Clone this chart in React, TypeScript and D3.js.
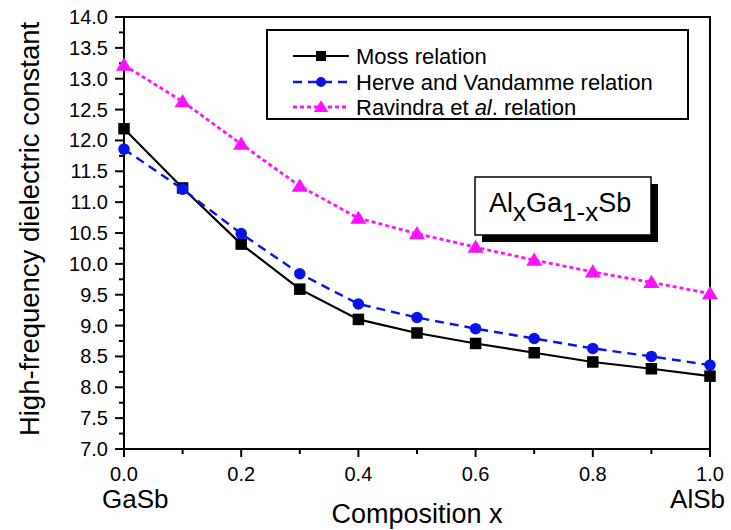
import React from "react";
import * as d3 from "d3";

const composition = [0.0, 0.1, 0.2, 0.3, 0.4, 0.5, 0.6, 0.7, 0.8, 0.9, 1.0];
const mossValues = [12.19, 11.23, 10.32, 9.59, 9.10, 8.88, 8.71, 8.56, 8.41, 8.30, 8.18];
const herveValues = [11.86, 11.21, 10.49, 9.84, 9.35, 9.13, 8.95, 8.79, 8.63, 8.50, 8.36];
const ravindraValues = [13.22, 12.63, 11.94, 11.26, 10.74, 10.49, 10.27, 10.06, 9.87, 9.70, 9.52];
const yTickValues = [7.0, 7.5, 8.0, 8.5, 9.0, 9.5, 10.0, 10.5, 11.0, 11.5, 12.0, 12.5, 13.0, 13.5, 14.0];
const xTickValues = [0.0, 0.2, 0.4, 0.6, 0.8, 1.0];
const seriesNames = ["Moss relation", "Herve and Vandamme relation", "Ravindra et al. relation"];

const W = 731;
const H = 530;
const L = 124, R = 710, T = 17, B = 449;
const FONT = "'Liberation Sans', Arial, sans-serif";

type Series = { name: string; values: number[]; color: string; dash: string; width: number; marker: "square" | "circle" | "triangle" };

const series: Series[] = [
  { name: seriesNames[0], values: mossValues, color: "#000000", dash: "none", width: 2.2, marker: "square" },
  { name: seriesNames[1], values: herveValues, color: "#0a14e6", dash: "9,6", width: 2.4, marker: "circle" },
  { name: seriesNames[2], values: ravindraValues, color: "#ff10ff", dash: "4,3", width: 2.8, marker: "triangle" },
];

function Marker({ kind, x, y, color, s }: { kind: string; x: number; y: number; color: string; s: number }) {
  if (kind === "square") return <rect x={x - s / 2} y={y - s / 2} width={s} height={s} fill={color} />;
  if (kind === "circle") return <circle cx={x} cy={y} r={s / 2} fill={color} />;
  const h = s * 0.9;
  const w = s * 1.15;
  return <path d={`M${x},${y - h * 0.6}L${x + w / 2},${y + h * 0.45}L${x - w / 2},${y + h * 0.45}Z`} fill={color} />;
}

export default function App() {
  const x = d3.scaleLinear().domain([0, 1]).range([L, R]);
  const y = d3.scaleLinear().domain([7, 14]).range([B, T]);
  const line = d3.line<number>().x((_, i) => x(composition[i])).y((v) => y(v));
  const yMinor = d3.range(7, 14.001, 0.25).filter((v) => Math.abs(v * 2 - Math.round(v * 2)) > 1e-6);
  const xMinor = d3.range(0.1, 1, 0.2);

  const legendRows = [56, 82, 107];

  return (
    <svg width={W} height={H} style={{ position: "absolute", left: 0, top: 0, background: "#fff" }} fontFamily={FONT}>
      <rect x={0} y={0} width={W} height={H} fill="#fff" />
      {/* frame */}
      <rect x={L} y={T} width={R - L} height={B - T} fill="none" stroke="#000" strokeWidth={2} />
      {/* y ticks */}
      {yTickValues.map((v) => (
        <g key={"y" + v}>
          <line x1={L - 9} x2={L} y1={y(v)} y2={y(v)} stroke="#000" strokeWidth={2} />
          <text x={108} y={y(v) + 7} textAnchor="end" fontSize={20} fill="#000">{v.toFixed(1)}</text>
        </g>
      ))}
      {yMinor.map((v) => (
        <line key={"ym" + v} x1={L - 5} x2={L} y1={y(v)} y2={y(v)} stroke="#000" strokeWidth={2} />
      ))}
      {/* x ticks */}
      {xTickValues.map((v) => (
        <g key={"x" + v}>
          <line x1={x(v)} x2={x(v)} y1={B} y2={B + 8} stroke="#000" strokeWidth={2} />
          <text x={x(v)} y={481} textAnchor="middle" fontSize={20} fill="#000">{v.toFixed(1)}</text>
        </g>
      ))}
      {xMinor.map((v) => (
        <line key={"xm" + v} x1={x(v)} x2={x(v)} y1={B} y2={B + 5} stroke="#000" strokeWidth={2} />
      ))}
      <text x={102} y={508} fontSize={26} fill="#000">GaSb</text>
      <text x={725} y={508} textAnchor="end" fontSize={26} fill="#000">AlSb</text>
      <text x={(L + R) / 2} y={523} textAnchor="middle" fontSize={27} fill="#000">Composition x</text>
      <text transform={`translate(39,${(T + B) / 2 - 4}) rotate(-90)`} textAnchor="middle" fontSize={27.5} fill="#000">
        High-frequency dielectric constant
      </text>

      {/* series */}
      {series.map((s) => (
        <g key={s.name}>
          <path d={line(s.values) || ""} fill="none" stroke={s.color} strokeWidth={s.width} strokeDasharray={s.dash} />
          {s.values.map((v, i) => (
            <Marker key={i} kind={s.marker} x={x(composition[i])} y={y(v)} color={s.color} s={s.marker === "triangle" ? 14 : 11.5} />
          ))}
        </g>
      ))}

      {/* legend */}
      <rect x={267} y={30} width={421} height={89} fill="#fff" stroke="#000" strokeWidth={2} />
      {series.map((s, i) => (
        <g key={"lg" + i}>
          <line x1={293} x2={349} y1={legendRows[i]} y2={legendRows[i]} stroke={s.color} strokeWidth={s.width} strokeDasharray={s.dash} />
          <Marker kind={s.marker} x={321} y={legendRows[i]} color={s.color} s={s.marker === "triangle" ? 12.5 : 10} />
          <text x={356} y={legendRows[i] + 8} fontSize={22} fill="#000">
            {i === 2 ? (
              <>
                Ravindra et <tspan fontStyle="italic">al</tspan>. relation
              </>
            ) : (
              s.name
            )}
          </text>
        </g>
      ))}

      {/* annotation */}
      <rect x={482} y={184} width={176} height={58} fill="#000" />
      <rect x={475} y={177} width={176} height={58} fill="#fff" stroke="#000" strokeWidth={1.5} />
      <text x={489} y={212} fontSize={27} fill="#000">
        Al<tspan fontSize={26} dy={9}>x</tspan>
        <tspan dy={-9}>Ga</tspan>
        <tspan fontSize={26} dy={9}>1-x</tspan>
        <tspan dy={-9}>Sb</tspan>
      </text>
    </svg>
  );
}
